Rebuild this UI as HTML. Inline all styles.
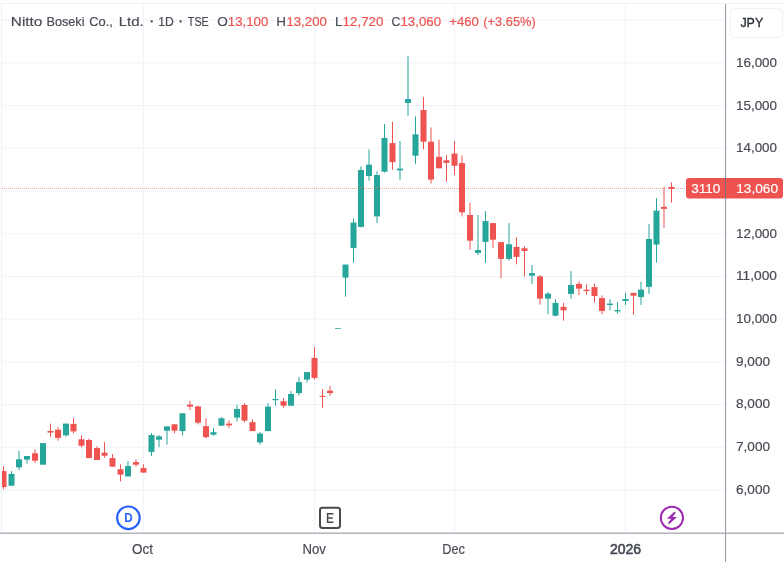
<!DOCTYPE html>
<html><head><meta charset="utf-8"><title>Chart</title>
<style>
html,body{margin:0;padding:0;background:#fff;}
body{width:784px;height:562px;overflow:hidden;position:relative;font-family:"Liberation Sans",sans-serif;}
svg{position:absolute;left:0;top:0;display:block;will-change:transform;}
text{font-family:"Liberation Sans",sans-serif;}
</style></head><body>
<svg width="784" height="562" viewBox="0 0 784 562">
<rect x="0" y="0" width="784" height="562" fill="#ffffff"/>
<rect x="1" y="3" width="783" height="1" fill="#f0f1f4"/>
<rect x="1" y="3" width="1" height="530" fill="#f0f1f4"/>
<g fill="#f0f3fa">
<rect x="2" y="19.69" width="723" height="1"/>
<rect x="2" y="62.40" width="723" height="1"/>
<rect x="2" y="105.11" width="723" height="1"/>
<rect x="2" y="147.82" width="723" height="1"/>
<rect x="2" y="190.53" width="723" height="1"/>
<rect x="2" y="233.24" width="723" height="1"/>
<rect x="2" y="275.95" width="723" height="1"/>
<rect x="2" y="318.66" width="723" height="1"/>
<rect x="2" y="361.37" width="723" height="1"/>
<rect x="2" y="404.08" width="723" height="1"/>
<rect x="2" y="446.79" width="723" height="1"/>
<rect x="2" y="489.50" width="723" height="1"/>
<rect x="143" y="4" width="1" height="528"/>
<rect x="314" y="4" width="1" height="528"/>
<rect x="454" y="4" width="1" height="528"/>
<rect x="625" y="4" width="1" height="528"/>
</g>
<g>
<rect x="3.00" y="466.4" width="1" height="22.6" fill="#ef5350"/><rect x="0.5" y="471.1" width="6" height="16.0" fill="#ef5350"/>
<rect x="11.00" y="471.1" width="1" height="14.6" fill="#26a69a"/><rect x="8.5" y="473.9" width="6" height="11.8" fill="#26a69a"/>
<rect x="18.50" y="450.7" width="1" height="19.3" fill="#26a69a"/><rect x="16.0" y="459.3" width="6" height="8.1" fill="#26a69a"/>
<rect x="26.50" y="456.0" width="1" height="7.6" fill="#26a69a"/><rect x="24.0" y="456.0" width="6" height="3.6" fill="#26a69a"/>
<rect x="34.50" y="449.3" width="1" height="13.6" fill="#ef5350"/><rect x="32.0" y="453.3" width="6" height="7.4" fill="#ef5350"/>
<rect x="40.0" y="443.1" width="6" height="21.6" fill="#26a69a"/>
<rect x="50.00" y="423.6" width="1" height="13.1" fill="#ef5350"/><rect x="47.5" y="431.0" width="6" height="1.6" fill="#ef5350"/>
<rect x="57.50" y="427.1" width="1" height="13.6" fill="#ef5350"/><rect x="55.0" y="429.7" width="6" height="8.2" fill="#ef5350"/>
<rect x="65.50" y="423.6" width="1" height="13.1" fill="#26a69a"/><rect x="63.0" y="423.6" width="6" height="11.7" fill="#26a69a"/>
<rect x="73.00" y="417.9" width="1" height="15.4" fill="#ef5350"/><rect x="70.5" y="423.9" width="6" height="7.5" fill="#ef5350"/>
<rect x="81.00" y="435.4" width="1" height="12.0" fill="#ef5350"/><rect x="78.5" y="439.3" width="6" height="6.4" fill="#ef5350"/>
<rect x="88.50" y="438.6" width="1" height="19.5" fill="#ef5350"/><rect x="86.0" y="440.0" width="6" height="18.1" fill="#ef5350"/>
<rect x="96.50" y="446.1" width="1" height="13.9" fill="#ef5350"/><rect x="94.0" y="448.1" width="6" height="11.9" fill="#ef5350"/>
<rect x="104.00" y="442.1" width="1" height="15.6" fill="#ef5350"/><rect x="101.5" y="452.7" width="6" height="3.0" fill="#ef5350"/>
<rect x="112.00" y="454.0" width="1" height="12.7" fill="#ef5350"/><rect x="109.5" y="458.1" width="6" height="8.6" fill="#ef5350"/>
<rect x="120.00" y="464.3" width="1" height="17.1" fill="#ef5350"/><rect x="117.5" y="469.3" width="6" height="5.4" fill="#ef5350"/>
<rect x="127.50" y="461.1" width="1" height="15.3" fill="#26a69a"/><rect x="125.0" y="466.1" width="6" height="10.3" fill="#26a69a"/>
<rect x="135.50" y="459.3" width="1" height="7.4" fill="#ef5350"/><rect x="133.0" y="462.1" width="6" height="2.6" fill="#ef5350"/>
<rect x="143.00" y="464.3" width="1" height="8.3" fill="#ef5350"/><rect x="140.5" y="468.1" width="6" height="4.5" fill="#ef5350"/>
<rect x="151.00" y="433.1" width="1" height="23.0" fill="#26a69a"/><rect x="148.5" y="435.0" width="6" height="16.9" fill="#26a69a"/>
<rect x="158.50" y="435.0" width="1" height="12.1" fill="#26a69a"/><rect x="156.0" y="436.4" width="6" height="3.3" fill="#26a69a"/>
<rect x="166.50" y="426.4" width="1" height="18.2" fill="#26a69a"/><rect x="164.0" y="426.4" width="6" height="4.3" fill="#26a69a"/>
<rect x="174.00" y="424.0" width="1" height="9.1" fill="#ef5350"/><rect x="171.5" y="424.3" width="6" height="6.4" fill="#ef5350"/>
<rect x="182.00" y="413.3" width="1" height="21.9" fill="#26a69a"/><rect x="179.5" y="413.3" width="6" height="17.8" fill="#26a69a"/>
<rect x="189.50" y="400.7" width="1" height="9.3" fill="#ef5350"/><rect x="187.0" y="404.6" width="6" height="2.1" fill="#ef5350"/>
<rect x="197.50" y="405.7" width="1" height="18.7" fill="#ef5350"/><rect x="195.0" y="406.4" width="6" height="16.3" fill="#ef5350"/>
<rect x="205.50" y="418.3" width="1" height="20.0" fill="#ef5350"/><rect x="203.0" y="426.2" width="6" height="10.9" fill="#ef5350"/>
<rect x="213.00" y="427.9" width="1" height="7.8" fill="#26a69a"/><rect x="210.5" y="432.2" width="6" height="2.5" fill="#26a69a"/>
<rect x="221.00" y="417.1" width="1" height="8.6" fill="#26a69a"/><rect x="218.5" y="418.3" width="6" height="7.4" fill="#26a69a"/>
<rect x="228.50" y="420.4" width="1" height="7.5" fill="#ef5350"/><rect x="226.0" y="423.6" width="6" height="1.8" fill="#ef5350"/>
<rect x="236.50" y="404.6" width="1" height="16.8" fill="#26a69a"/><rect x="234.0" y="409.0" width="6" height="8.6" fill="#26a69a"/>
<rect x="244.00" y="403.1" width="1" height="19.5" fill="#ef5350"/><rect x="241.5" y="405.0" width="6" height="15.7" fill="#ef5350"/>
<rect x="252.00" y="419.3" width="1" height="11.8" fill="#ef5350"/><rect x="249.5" y="422.1" width="6" height="9.0" fill="#ef5350"/>
<rect x="259.50" y="432.1" width="1" height="12.5" fill="#26a69a"/><rect x="257.0" y="433.6" width="6" height="8.8" fill="#26a69a"/>
<rect x="267.50" y="403.1" width="1" height="28.0" fill="#26a69a"/><rect x="265.0" y="406.6" width="6" height="24.5" fill="#26a69a"/>
<rect x="275.00" y="389.3" width="1" height="16.4" fill="#26a69a"/><rect x="272.5" y="399.0" width="6" height="1.2" fill="#26a69a"/>
<rect x="283.00" y="398.1" width="1" height="9.8" fill="#ef5350"/><rect x="280.5" y="401.2" width="6" height="4.5" fill="#ef5350"/>
<rect x="290.50" y="391.1" width="1" height="14.6" fill="#26a69a"/><rect x="288.0" y="394.0" width="6" height="11.7" fill="#26a69a"/>
<rect x="298.50" y="376.9" width="1" height="18.8" fill="#26a69a"/><rect x="296.0" y="382.1" width="6" height="11.0" fill="#26a69a"/>
<rect x="306.50" y="372.1" width="1" height="10.5" fill="#26a69a"/><rect x="304.0" y="372.1" width="6" height="7.5" fill="#26a69a"/>
<rect x="314.00" y="347.1" width="1" height="32.5" fill="#ef5350"/><rect x="311.5" y="357.9" width="6" height="20.0" fill="#ef5350"/>
<rect x="322.00" y="388.9" width="1" height="19.0" fill="#ef5350"/><rect x="319.5" y="395.9" width="6" height="1.0" fill="#ef5350"/>
<rect x="329.50" y="386.0" width="1" height="9.7" fill="#ef5350"/><rect x="327.0" y="390.7" width="6" height="2.4" fill="#ef5350"/>
<rect x="335.0" y="328.0" width="6" height="1.0" fill="#26a69a" fill-opacity="0.75"/>
<rect x="345.00" y="264.6" width="1" height="32.1" fill="#26a69a"/><rect x="342.5" y="264.6" width="6" height="13.0" fill="#26a69a"/>
<rect x="353.00" y="218.6" width="1" height="44.0" fill="#26a69a"/><rect x="350.5" y="222.6" width="6" height="25.3" fill="#26a69a"/>
<rect x="360.50" y="166.4" width="1" height="61.0" fill="#26a69a"/><rect x="358.0" y="170.0" width="6" height="56.9" fill="#26a69a"/>
<rect x="368.50" y="149.6" width="1" height="31.1" fill="#26a69a"/><rect x="366.0" y="164.7" width="6" height="11.3" fill="#26a69a"/>
<rect x="376.50" y="171.4" width="1" height="51.5" fill="#26a69a"/><rect x="374.0" y="175.0" width="6" height="41.4" fill="#26a69a"/>
<rect x="384.00" y="124.0" width="1" height="48.6" fill="#26a69a"/><rect x="381.5" y="137.9" width="6" height="33.8" fill="#26a69a"/>
<rect x="392.00" y="121.9" width="1" height="47.8" fill="#ef5350"/><rect x="389.5" y="143.1" width="6" height="19.0" fill="#ef5350"/>
<rect x="399.50" y="141.0" width="1" height="39.3" fill="#26a69a"/><rect x="397.0" y="168.6" width="6" height="1.8" fill="#26a69a"/>
<rect x="407.50" y="56.0" width="1" height="59.7" fill="#26a69a"/><rect x="405.0" y="99.0" width="6" height="3.9" fill="#26a69a"/>
<rect x="415.00" y="116.4" width="1" height="47.5" fill="#26a69a"/><rect x="412.5" y="134.3" width="6" height="21.4" fill="#26a69a"/>
<rect x="423.00" y="96.9" width="1" height="52.4" fill="#ef5350"/><rect x="420.5" y="110.0" width="6" height="31.7" fill="#ef5350"/>
<rect x="430.50" y="127.4" width="1" height="56.2" fill="#ef5350"/><rect x="428.0" y="141.7" width="6" height="37.9" fill="#ef5350"/>
<rect x="438.50" y="139.7" width="1" height="28.6" fill="#ef5350"/><rect x="436.0" y="156.9" width="6" height="11.4" fill="#ef5350"/>
<rect x="446.00" y="155.2" width="1" height="26.5" fill="#ef5350"/><rect x="443.5" y="160.3" width="6" height="2.6" fill="#ef5350"/>
<rect x="454.00" y="141.0" width="1" height="34.0" fill="#ef5350"/><rect x="451.5" y="153.6" width="6" height="12.1" fill="#ef5350"/>
<rect x="461.50" y="155.4" width="1" height="61.0" fill="#ef5350"/><rect x="459.0" y="163.1" width="6" height="49.2" fill="#ef5350"/>
<rect x="469.50" y="202.9" width="1" height="46.8" fill="#ef5350"/><rect x="467.0" y="215.0" width="6" height="25.7" fill="#ef5350"/>
<rect x="477.50" y="215.0" width="1" height="40.0" fill="#26a69a"/><rect x="475.0" y="250.0" width="6" height="2.9" fill="#26a69a"/>
<rect x="485.00" y="211.1" width="1" height="51.8" fill="#26a69a"/><rect x="482.5" y="221.1" width="6" height="20.8" fill="#26a69a"/>
<rect x="492.50" y="222.9" width="1" height="25.0" fill="#ef5350"/><rect x="490.0" y="223.1" width="6" height="16.6" fill="#ef5350"/>
<rect x="500.50" y="242.1" width="1" height="36.0" fill="#ef5350"/><rect x="498.0" y="242.1" width="6" height="16.8" fill="#ef5350"/>
<rect x="508.50" y="223.1" width="1" height="37.6" fill="#26a69a"/><rect x="506.0" y="244.3" width="6" height="14.6" fill="#26a69a"/>
<rect x="516.00" y="237.1" width="1" height="27.2" fill="#ef5350"/><rect x="513.5" y="246.9" width="6" height="10.0" fill="#ef5350"/>
<rect x="524.00" y="246.4" width="1" height="30.0" fill="#ef5350"/><rect x="521.5" y="248.3" width="6" height="2.7" fill="#ef5350"/>
<rect x="531.50" y="265.0" width="1" height="19.0" fill="#26a69a"/><rect x="529.0" y="273.1" width="6" height="2.6" fill="#26a69a"/>
<rect x="539.50" y="275.0" width="1" height="29.6" fill="#ef5350"/><rect x="537.0" y="276.4" width="6" height="22.2" fill="#ef5350"/>
<rect x="547.50" y="292.1" width="1" height="22.2" fill="#26a69a"/><rect x="545.0" y="293.6" width="6" height="5.0" fill="#26a69a"/>
<rect x="555.00" y="299.3" width="1" height="17.1" fill="#26a69a"/><rect x="552.5" y="302.9" width="6" height="12.8" fill="#26a69a"/>
<rect x="563.00" y="302.9" width="1" height="17.8" fill="#ef5350"/><rect x="560.5" y="306.9" width="6" height="3.4" fill="#ef5350"/>
<rect x="570.50" y="271.1" width="1" height="27.5" fill="#26a69a"/><rect x="568.0" y="285.0" width="6" height="8.9" fill="#26a69a"/>
<rect x="578.50" y="281.4" width="1" height="13.9" fill="#ef5350"/><rect x="576.0" y="283.9" width="6" height="4.7" fill="#ef5350"/>
<rect x="586.00" y="284.3" width="1" height="10.4" fill="#ef5350"/><rect x="583.5" y="289.7" width="6" height="1.4" fill="#ef5350"/>
<rect x="594.00" y="283.6" width="1" height="19.0" fill="#ef5350"/><rect x="591.5" y="287.1" width="6" height="8.9" fill="#ef5350"/>
<rect x="601.50" y="295.4" width="1" height="18.9" fill="#ef5350"/><rect x="599.0" y="298.1" width="6" height="12.9" fill="#ef5350"/>
<rect x="609.50" y="299.3" width="1" height="11.0" fill="#26a69a"/><rect x="607.0" y="303.6" width="6" height="1.4" fill="#26a69a"/>
<rect x="617.00" y="302.1" width="1" height="11.5" fill="#26a69a"/><rect x="614.5" y="310.0" width="6" height="1.4" fill="#26a69a"/>
<rect x="625.00" y="292.9" width="1" height="12.1" fill="#26a69a"/><rect x="622.5" y="299.0" width="6" height="2.0" fill="#26a69a"/>
<rect x="633.00" y="292.9" width="1" height="21.8" fill="#ef5350"/><rect x="630.5" y="292.9" width="6" height="2.8" fill="#ef5350"/>
<rect x="640.50" y="281.9" width="1" height="23.1" fill="#26a69a"/><rect x="638.0" y="289.6" width="6" height="7.5" fill="#26a69a"/>
<rect x="648.50" y="223.9" width="1" height="70.0" fill="#26a69a"/><rect x="646.0" y="239.0" width="6" height="47.9" fill="#26a69a"/>
<rect x="656.00" y="198.1" width="1" height="64.5" fill="#26a69a"/><rect x="653.5" y="210.7" width="6" height="33.9" fill="#26a69a"/>
<rect x="663.50" y="187.1" width="1" height="40.8" fill="#ef5350"/><rect x="661.0" y="206.9" width="6" height="2.0" fill="#ef5350"/>
<rect x="671.00" y="182.4" width="1" height="20.2" fill="#ef5350"/><rect x="668.5" y="186.9" width="6" height="2.0" fill="#ef5350"/>
</g>
<line x1="2" y1="188.5" x2="686" y2="188.5" stroke="#ef5350" stroke-width="1" stroke-dasharray="1 1" stroke-opacity="0.55"/>
<rect x="0" y="4" width="1" height="529" fill="#fff"/>
<rect x="1" y="4" width="1" height="529" fill="#f0f1f4"/>
<rect x="686" y="178" width="97" height="20.5" rx="3" ry="3" fill="#ef5350"/>
<rect x="725" y="4" width="1" height="558" fill="#9c9eab"/><rect x="726" y="4" width="1" height="558" fill="#f3f3f6"/><rect x="725" y="178" width="1" height="20.5" fill="#826e7b"/><rect x="726" y="178" width="1" height="20.5" fill="#ef5350"/>
<rect x="0" y="532" width="784" height="1" fill="#d6d8dd"/><rect x="0" y="533" width="784" height="1" fill="#b3b5be"/>
<rect x="725" y="532" width="1" height="2" fill="#9395a2"/>
<rect x="730.5" y="8.5" width="52" height="29" rx="4.5" ry="4.5" fill="#fff" stroke="#eef0f4" stroke-width="1"/>
<text x="740.4" y="26.7" font-size="12.5" fill="#2a2e39" text-anchor="start" font-weight="normal" stroke="#2a2e39" stroke-width="0.35" textLength="22.8" lengthAdjust="spacingAndGlyphs">JPY</text>
<text x="736.0" y="66.8" font-size="13" fill="#474a55" text-anchor="start" font-weight="normal" stroke="#474a55" stroke-width="0.18" textLength="41.0" lengthAdjust="spacingAndGlyphs">16,000</text>
<text x="736.0" y="109.5" font-size="13" fill="#474a55" text-anchor="start" font-weight="normal" stroke="#474a55" stroke-width="0.18" textLength="41.0" lengthAdjust="spacingAndGlyphs">15,000</text>
<text x="736.0" y="152.2" font-size="13" fill="#474a55" text-anchor="start" font-weight="normal" stroke="#474a55" stroke-width="0.18" textLength="41.0" lengthAdjust="spacingAndGlyphs">14,000</text>
<text x="736.0" y="237.6" font-size="13" fill="#474a55" text-anchor="start" font-weight="normal" stroke="#474a55" stroke-width="0.18" textLength="41.0" lengthAdjust="spacingAndGlyphs">12,000</text>
<text x="736.0" y="280.3" font-size="13" fill="#474a55" text-anchor="start" font-weight="normal" stroke="#474a55" stroke-width="0.18" textLength="41.0" lengthAdjust="spacingAndGlyphs">11,000</text>
<text x="736.0" y="323.0" font-size="13" fill="#474a55" text-anchor="start" font-weight="normal" stroke="#474a55" stroke-width="0.18" textLength="41.0" lengthAdjust="spacingAndGlyphs">10,000</text>
<text x="736.0" y="365.7" font-size="13" fill="#474a55" text-anchor="start" font-weight="normal" stroke="#474a55" stroke-width="0.18" textLength="34.0" lengthAdjust="spacingAndGlyphs">9,000</text>
<text x="736.0" y="408.4" font-size="13" fill="#474a55" text-anchor="start" font-weight="normal" stroke="#474a55" stroke-width="0.18" textLength="34.0" lengthAdjust="spacingAndGlyphs">8,000</text>
<text x="736.0" y="451.1" font-size="13" fill="#474a55" text-anchor="start" font-weight="normal" stroke="#474a55" stroke-width="0.18" textLength="34.0" lengthAdjust="spacingAndGlyphs">7,000</text>
<text x="736.0" y="493.9" font-size="13" fill="#474a55" text-anchor="start" font-weight="normal" stroke="#474a55" stroke-width="0.18" textLength="34.0" lengthAdjust="spacingAndGlyphs">6,000</text>
<text x="736.2" y="193.1" font-size="13" fill="#ffffff" text-anchor="start" font-weight="normal" stroke="#ffffff" stroke-width="0.18" textLength="41.8" lengthAdjust="spacingAndGlyphs">13,060</text>
<text x="691.2" y="193.1" font-size="13" fill="#ffffff" text-anchor="start" font-weight="normal" stroke="#ffffff" stroke-width="0.18" textLength="29.2" lengthAdjust="spacingAndGlyphs">3110</text>
<text x="10.8" y="25.6" font-size="13" fill="#474a55" text-anchor="start" font-weight="normal" stroke="#474a55" stroke-width="0.18" textLength="31.6" lengthAdjust="spacingAndGlyphs">Nitto</text>
<text x="46.5" y="25.6" font-size="13" fill="#474a55" text-anchor="start" font-weight="normal" stroke="#474a55" stroke-width="0.18" textLength="38.0" lengthAdjust="spacingAndGlyphs">Boseki</text>
<text x="89.2" y="25.6" font-size="13" fill="#474a55" text-anchor="start" font-weight="normal" stroke="#474a55" stroke-width="0.18" textLength="23.6" lengthAdjust="spacingAndGlyphs">Co.,</text>
<text x="118.7" y="25.6" font-size="13" fill="#474a55" text-anchor="start" font-weight="normal" stroke="#474a55" stroke-width="0.18" textLength="25.0" lengthAdjust="spacingAndGlyphs">Ltd.</text>
<text x="158.3" y="25.6" font-size="13" fill="#474a55" text-anchor="start" font-weight="normal" stroke="#474a55" stroke-width="0.18" textLength="15.5" lengthAdjust="spacingAndGlyphs">1D</text>
<text x="187.8" y="25.6" font-size="13" fill="#474a55" text-anchor="start" font-weight="normal" stroke="#474a55" stroke-width="0.18" textLength="21.0" lengthAdjust="spacingAndGlyphs">TSE</text>
<text x="217.3" y="25.6" font-size="13" fill="#474a55" text-anchor="start" font-weight="normal" stroke="#474a55" stroke-width="0.18" textLength="10.6" lengthAdjust="spacingAndGlyphs">O</text>
<text x="227.8" y="25.6" font-size="13" fill="#ef5350" text-anchor="start" font-weight="normal" stroke="#ef5350" stroke-width="0.18" textLength="40.5" lengthAdjust="spacingAndGlyphs">13,100</text>
<text x="276.3" y="25.6" font-size="13" fill="#474a55" text-anchor="start" font-weight="normal" stroke="#474a55" stroke-width="0.18" textLength="9.7" lengthAdjust="spacingAndGlyphs">H</text>
<text x="286.4" y="25.6" font-size="13" fill="#ef5350" text-anchor="start" font-weight="normal" stroke="#ef5350" stroke-width="0.18" textLength="40.5" lengthAdjust="spacingAndGlyphs">13,200</text>
<text x="334.9" y="25.6" font-size="13" fill="#474a55" text-anchor="start" font-weight="normal" stroke="#474a55" stroke-width="0.18" textLength="7.4" lengthAdjust="spacingAndGlyphs">L</text>
<text x="342.6" y="25.6" font-size="13" fill="#ef5350" text-anchor="start" font-weight="normal" stroke="#ef5350" stroke-width="0.18" textLength="40.9" lengthAdjust="spacingAndGlyphs">12,720</text>
<text x="391.5" y="25.6" font-size="13" fill="#474a55" text-anchor="start" font-weight="normal" stroke="#474a55" stroke-width="0.18" textLength="8.9" lengthAdjust="spacingAndGlyphs">C</text>
<text x="400.4" y="25.6" font-size="13" fill="#ef5350" text-anchor="start" font-weight="normal" stroke="#ef5350" stroke-width="0.18" textLength="40.7" lengthAdjust="spacingAndGlyphs">13,060</text>
<text x="449.2" y="25.6" font-size="13" fill="#ef5350" text-anchor="start" font-weight="normal" stroke="#ef5350" stroke-width="0.18" textLength="29.8" lengthAdjust="spacingAndGlyphs">+460</text>
<text x="483.3" y="25.6" font-size="13" fill="#ef5350" text-anchor="start" font-weight="normal" stroke="#ef5350" stroke-width="0.18" textLength="52.4" lengthAdjust="spacingAndGlyphs">(+3.65%)</text>
<rect x="150.6" y="20.3" width="2.2" height="2.2" rx="0.7" fill="#474a55"/><rect x="179.5" y="20.3" width="2.2" height="2.2" rx="0.7" fill="#474a55"/>
<text x="132.1" y="553.9" font-size="14" fill="#474a55" text-anchor="start" font-weight="normal" stroke="#474a55" stroke-width="0.18" textLength="21.0" lengthAdjust="spacingAndGlyphs">Oct</text>
<text x="302.4" y="553.9" font-size="14" fill="#474a55" text-anchor="start" font-weight="normal" stroke="#474a55" stroke-width="0.18" textLength="23.4" lengthAdjust="spacingAndGlyphs">Nov</text>
<text x="442.2" y="553.9" font-size="14" fill="#474a55" text-anchor="start" font-weight="normal" stroke="#474a55" stroke-width="0.18" textLength="22.7" lengthAdjust="spacingAndGlyphs">Dec</text>
<text x="625.5" y="553.8" font-size="14" fill="#474a55" text-anchor="middle" font-weight="normal" stroke="#474a55" stroke-width="0.6">2026</text>
<circle cx="128.4" cy="517.8" r="11.3" fill="#fff" stroke="#2962ff" stroke-width="2.2"/>
<text x="124.3" y="522.3" font-size="13" fill="#2962ff" text-anchor="start" font-weight="bold" stroke="#2962ff" stroke-width="0" textLength="8.4" lengthAdjust="spacingAndGlyphs">D</text>
<rect x="320" y="507.8" width="20" height="20.2" rx="2.4" ry="2.4" fill="#fff" stroke="#4a4a4a" stroke-width="2"/>
<path d="M333.4 513.7 H327.6 V522.3 H333.4 M327.6 517.9 H332.8" fill="none" stroke="#4a4a4a" stroke-width="1.5"/>
<circle cx="671.9" cy="517.85" r="11.1" fill="#fff" stroke="#9c27b0" stroke-width="2"/>
<path transform="translate(671.9 517.85)" d="M2.4 -6.2 L3.9 -5.4 L0.6 -0.9 L5.1 -0.9 L-2.6 6.1 L-4.0 5.4 L-0.7 0.8 L-5.0 0.8 Z" fill="#9c27b0"/>
</svg>
</body></html>
